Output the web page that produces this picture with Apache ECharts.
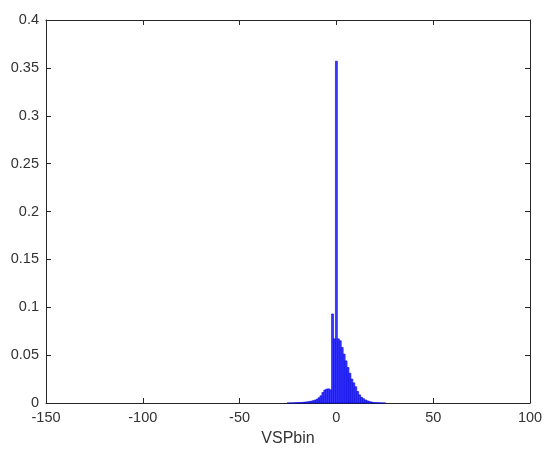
<!DOCTYPE html>
<html>
<head>
<meta charset="utf-8">
<script src="https://cdn.jsdelivr.net/npm/echarts@6/dist/echarts.min.js"></script>
<style>html,body{margin:0;padding:0;background:#fff}#c{width:550px;height:460px}</style>
</head>
<body>
<div id="c"></div>
<script>
const binCenters = [-25,-24,-23,-22,-21,-20,-19,-18,-17,-16,-15,-14,-13,-12,-11,-10,-9,-8,-7,-6,-5,-4,-3,-2,-1,0,1,2,3,4,5,6,7,8,9,10,11,12,13,14,15,16,17,18,19,20,21,22,23,24,25];
const binValues = [0.00005,0.0001,0.0001,0.0002,0.0003,0.0004,0.0005,0.0006,0.0008,0.001,0.0012,0.0015,0.0019,0.0024,0.003,0.004,0.0055,0.0075,0.011,0.0135,0.0145,0.0148,0.0138,0.093,0.067,0.357,0.067,0.065,0.058,0.051,0.044,0.037,0.031,0.025,0.021,0.017,0.012,0.0085,0.006,0.0045,0.0032,0.0023,0.0016,0.0011,0.0007,0.0004,0.0003,0.0002,0.0001,0.00005,0.00003];
const binWidth = 1;
const xTicks = [-150,-100,-50,0,50,100];
const xLabel = 'VSPbin';

const axisColor = '#262626';
const labelColor = '#333333';
const fontFam = '"Liberation Sans", Arial, Helvetica, sans-serif';
const chart = echarts.init(document.getElementById('c'), null, {renderer:'canvas'});
const data = binCenters.map((c,i)=>[c, binValues[i]]);
chart.setOption({
  animation:false,
  grid:{left:46,right:20,top:20,bottom:57},
  xAxis:[{
    type:'value', min:xTicks[0], max:xTicks[xTicks.length-1], interval:50,
    name:xLabel, nameLocation:'middle', nameGap:28,
    nameTextStyle:{color:labelColor,fontSize:16,fontFamily:fontFam},
    axisLine:{show:true,onZero:false,lineStyle:{color:axisColor,width:1}},
    axisTick:{show:true,inside:true,length:5,lineStyle:{color:axisColor}},
    axisLabel:{color:labelColor,fontSize:14.5,fontFamily:fontFam,margin:7},
    splitLine:{show:false}
  },{
    type:'value', position:'top', min:xTicks[0], max:xTicks[xTicks.length-1], interval:50,
    axisLine:{show:true,onZero:false,lineStyle:{color:axisColor,width:1}},
    axisTick:{show:true,inside:true,length:5,lineStyle:{color:axisColor}},
    axisLabel:{show:false}, splitLine:{show:false}
  }],
  yAxis:[{
    type:'value', min:0, max:0.4, interval:0.05,
    axisLine:{show:true,onZero:false,lineStyle:{color:axisColor,width:1}},
    axisTick:{show:true,inside:true,length:5,lineStyle:{color:axisColor}},
    axisLabel:{color:labelColor,fontSize:14.5,fontFamily:fontFam,margin:7},
    splitLine:{show:false}
  },{
    type:'value', position:'right', min:0, max:0.4, interval:0.05,
    axisLine:{show:true,onZero:false,lineStyle:{color:axisColor,width:1}},
    axisTick:{show:true,inside:true,length:5,lineStyle:{color:axisColor}},
    axisLabel:{show:false}, splitLine:{show:false}
  }],
  series:[{
    type:'custom',
    xAxisIndex:0, yAxisIndex:0,
    data:data,
    renderItem:function(params, api){
      const c = api.value(0), v = api.value(1);
      const p0 = api.coord([c - binWidth/2, v]);
      const p1 = api.coord([c + binWidth/2, 0]);
      return {
        type:'rect',
        shape:{x:p0[0], y:p0[1], width:p1[0]-p0[0], height:p1[1]-p0[1]},
        style:{fill:'#3a3aff', stroke:'#0000dd', lineWidth:0.6}
      };
    }
  }]
});
</script>
</body>
</html>
